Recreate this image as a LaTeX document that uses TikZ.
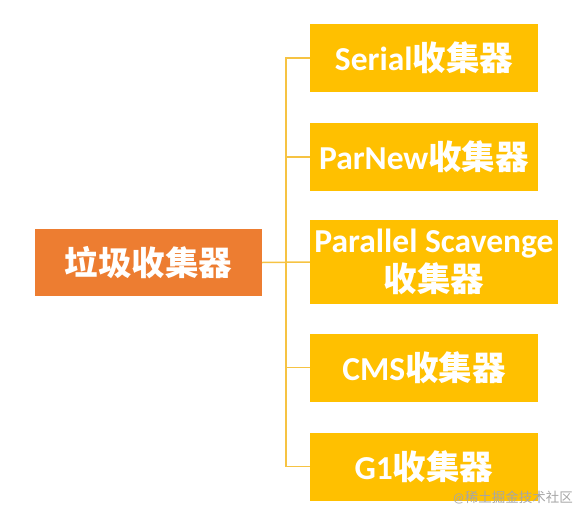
\documentclass[tikz,border=0pt]{standalone}
\usepackage{fontspec}
\setmainfont{Carlito}
\newfontfamily\cjk{Noto Sans CJK SC}
\definecolor{orangebox}{HTML}{ED7D31}
\definecolor{yellowbox}{HTML}{FFC000}
\definecolor{linkcol}{HTML}{F6C343}
\begin{document}
\begin{tikzpicture}[x=1pt,y=-1pt,
  rootbox/.style={fill=orangebox,text=white,minimum width=227pt,minimum height=67pt,inner sep=0pt,font=\bfseries\fontsize{33.5}{36}\selectfont},
  leafbox/.style={fill=yellowbox,text=white,minimum width=228pt,minimum height=68pt,inner sep=0pt,align=center,font=\bfseries\fontsize{33.5}{39}\selectfont},
  link/.style={draw=linkcol,line width=1.5pt}]
\useasboundingbox (0,0) rectangle (580,522);
\node[rootbox] (root) at (148.5,262.5) {\cjk 垃圾收集器};
\node[leafbox] (s1) at (424,58) {Serial{\cjk 收集器}};
\node[leafbox] (s2) at (424,157) {ParNew{\cjk 收集器}};
\node[leafbox,minimum width=248pt,minimum height=84pt] (s3) at (434,262) {Parallel Scavenge\\{\cjk 收集器}};
\node[leafbox] (s4) at (424,367.5) {CMS{\cjk 收集器}};
\node[leafbox] (s5) at (424,466.5) {G1{\cjk 收集器}};
\draw[link] (root.east) -- (s3.west);
\draw[link] (s1.west) -- ++(-24,0) |- (s5.west);
\draw[link] (s2.west) -- ++(-24,0);
\draw[link] (s4.west) -- ++(-24,0);
\node[text=gray!70,anchor=east,inner sep=0pt,font=\fontsize{13.5}{14}\selectfont] (wm) at (573,498) {@{\cjk 稀土掘金技术社区}};
\end{tikzpicture}
\end{document}
